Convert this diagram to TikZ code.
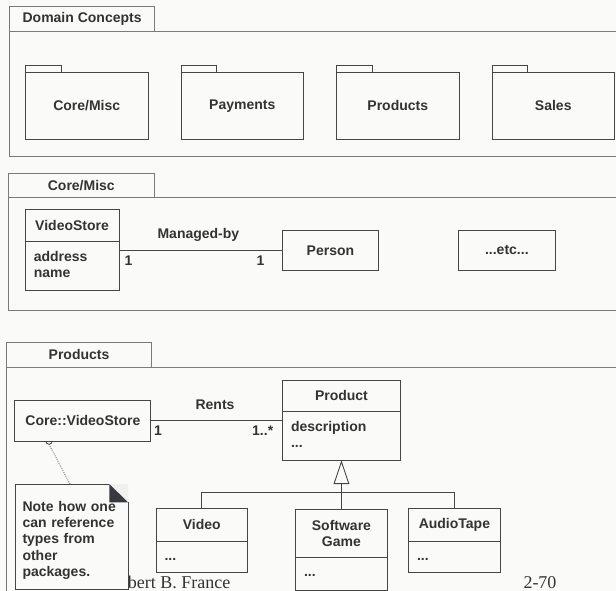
\documentclass[tikz,border=0pt]{standalone}
\usepackage{fontspec}
\newfontfamily\umlfont{Liberation Sans}
\newfontfamily\slidefont{Liberation Serif}
\usetikzlibrary{arrows.meta}
\definecolor{paper}{HTML}{FAFAF8}
\definecolor{ink}{HTML}{333333}
\definecolor{edge}{HTML}{454545}
\definecolor{framecol}{HTML}{7A7A7A}
\definecolor{foldcol}{HTML}{383840}
\definecolor{foldback}{HTML}{F0F0EE}

\begin{document}
\begin{tikzpicture}[x=1pt,y=-1pt,
  lbl/.style={font=\umlfont\bfseries\fontsize{14}{16.4}\selectfont, text=ink},
  cell/.style={lbl, draw=edge, line width=0.9pt, inner sep=0pt, outer sep=0pt,
    anchor=north west, align=center},
  tabcell/.style={cell, draw=framecol},
  framebox/.style={draw=framecol, line width=0.9pt, inner sep=0pt, outer sep=0pt,
    anchor=north west},
  attrs/.style={cell, align=left, inner ysep=0pt},
  pkg/.style={cell, minimum width=122.5pt, minimum height=67pt},
  pkgtab/.style={draw=edge, line width=0.9pt},
  assoc/.style={draw=edge, line width=0.9pt},
  notelink/.style={draw=edge, line width=0.8pt, dash pattern=on 0.8pt off 1.3pt},
  footer/.style={font=\slidefont\fontsize{18}{20}\selectfont, text=ink,
    inner sep=0pt, anchor=base west}
]
\useasboundingbox (0,0) rectangle (616,591);
\clip (0,0) rectangle (616,591);
\fill[paper] (0,0) rectangle (616,591);

% ---------- Domain Concepts package ----------
\node[tabcell, minimum width=145.4pt, minimum height=24.3pt] (dctab) at (9.4,6.7) {Domain Concepts};
\node[framebox, minimum width=640pt, minimum height=125pt] (dcframe) at (9.4,31) {};

\node[pkg] (pcore)  at (25.5,72.3)  {Core/Misc};
\node[pkg] (ppay)   at (181,72.3)   {Payments};
\node[pkg] (pprod)  at (336.5,72.3) {Products};
\node[pkg] (psales) at (492,72.3)   {Sales};
\foreach \p in {pcore,ppay,pprod,psales}
  \draw[pkgtab] (\p.north west) rectangle ++(35.5,-6.6);

% ---------- Core/Misc package ----------
\node[tabcell, minimum width=145.4pt, minimum height=24.4pt] (cmtab) at (8.6,173.3) {Core/Misc};
\node[framebox, minimum width=640pt, minimum height=113pt] (cmframe) at (8.6,197.7) {};

\node[cell, minimum width=93.9pt, minimum height=32pt] (vsname) at (25.1,209.7) {VideoStore};
\node[attrs, text width=76.5pt, inner xsep=8.7pt, minimum height=48.6pt] (vsattr)
  at (vsname.south west) {\strut address\\\strut name};
\node[cell, minimum width=95.9pt, minimum height=40pt] (person) at (282.5,230.3) {Person};
\node[cell, minimum width=96.7pt, minimum height=40pt] (etc) at (458.5,230.3) {...etc...};

\draw[assoc] (vsattr.east |- person.west) -- (person.west);
\node[lbl] (mgd) at (198.4,235) {Managed-by};
\node[lbl] (mgdA) at (128.5,260.7) {1};
\node[lbl] (mgdB) at (260.5,260.7) {1};

% ---------- Products package ----------
\node[tabcell, minimum width=145.4pt, minimum height=24.7pt] (prtab) at (6.3,342.3) {Products};
\node[framebox, minimum width=640pt, minimum height=300pt] (prframe) at (6.3,367) {};

\node[cell, minimum width=136pt, minimum height=40.7pt] (cvs) at (14.9,400.3) {Core::VideoStore};
\node[cell, minimum width=117.9pt, minimum height=31.7pt] (prodname) at (282.5,380) {Product};
\node[attrs, text width=100.9pt, inner xsep=8.5pt, minimum height=48.6pt] (prodattr)
  at (prodname.south west) {\strut description\\\strut ...};

\draw[assoc] (cvs.east) -- (cvs.east -| prodname.west);
\node[lbl] (rents) at (215,405) {Rents};
\node[lbl] (rentsA) at (158,430.7) {1};
\node[lbl] (rentsB) at (262.7,430.7) {1..*};

% subclasses
\node[cell, minimum width=91.5pt, minimum height=33pt] (vidname) at (156,508.3) {Video};
\node[attrs, text width=74.5pt, inner xsep=8.5pt, minimum height=31.4pt] (vidattr)
  at (vidname.south west) {\strut ...};
\node[cell, minimum width=91.9pt, minimum height=47.6pt] (sgname) at (295.5,509.7) {Software\\Game};
\node[attrs, text width=74.9pt, inner xsep=8.5pt, minimum height=32.7pt] (sgattr)
  at (sgname.south west) {\strut ...};
\node[cell, minimum width=91.6pt, minimum height=33pt] (audname) at (408.6,508.3) {AudioTape};
\node[attrs, text width=74.6pt, inner xsep=8.5pt, minimum height=31.4pt] (audattr)
  at (audname.south west) {\strut ...};

% generalization
\coordinate (bar) at (0,492.7);
\draw[assoc] (vidname.north) -- (vidname.north |- bar) -| (audname.north);
\draw[assoc, -{Triangle[length=23.7pt, width=15.7pt, fill=paper]}] (sgname.north) -- (prodattr.south);

% slide footer (partly covered by the note)
\node[footer] (author) at (106.7,588) {Robert B. France};
\node[footer] (pageno) at (523.3,588) {2-70};

% note with folded corner
\coordinate (noteNW) at (15.3,484);
\coordinate (noteSE) at (128,589.5);
\coordinate (foldA) at (109.3,484);
\coordinate (foldB) at (128,502.3);
\coordinate (foldC) at (109.3,502.3);
\fill[paper] (noteNW) rectangle (noteSE);
\fill[foldback] (foldA) -- (foldA -| foldB) -- (foldB) -- cycle;
\draw[assoc] (foldA) -- (noteNW) -- (noteNW |- noteSE) -- (noteSE) -- (foldB);
\node[lbl, anchor=north west, inner sep=0pt, align=left, text width=100pt] (note) at (22.3,499.5)
  {\strut Note how one\\can reference\\types from\\other\\packages.};
\fill[foldcol] (foldA) -- (foldC) -- (foldB) -- cycle;

% note anchor on Core::VideoStore
\coordinate (pin) at ([xshift=-33.9pt]cvs.south);
\coordinate (notepin) at (70,484);
\draw[draw=edge, line width=0.8pt] ([xshift=-3.3pt]pin) arc[start angle=180, end angle=360, radius=3.3pt];
\draw[notelink] ([yshift=-3.3pt]pin) -- (notepin);

\end{tikzpicture}
\end{document}
